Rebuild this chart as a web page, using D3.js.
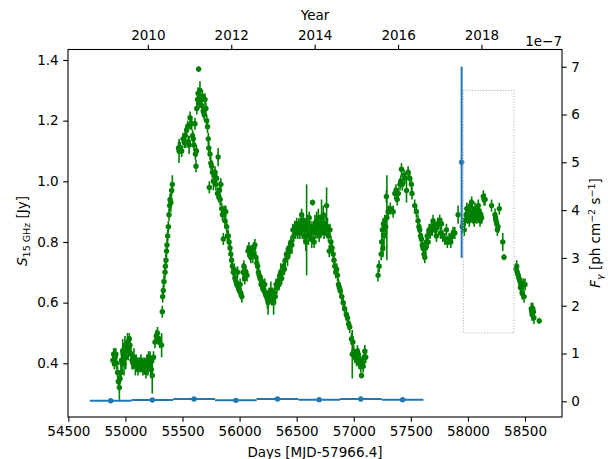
<!DOCTYPE html>
<html>
<head>
<meta charset="utf-8">
<script src="https://cdn.jsdelivr.net/npm/d3@7/dist/d3.min.js"></script>
<style>
  body { margin: 0; background: #fff; }
  svg text { font-family: "DejaVu Sans", sans-serif; fill: #000; }
</style>
</head>
<body>
<div id="chart"></div>
<script>
// ---------------- data ----------------
// OVRO 15 GHz light curve: MJD, flux density [Jy], error [Jy]
var ovroMjd = [
  54890,54897,54903,54909,54916,54922,54931,54938,54947,54953,54961,54966,54970,54976,54981,54988,54996,55003,55011,55018,
  55025,55034,55040,55049,55058,55066,55075,55087,55094,55101,55110,55119,55128,55136,55145,55154,55163,55171,55180,55189,
  55196,55203,55210,55216,55222,55227,55235,55246,55259,55270,55280,55290,55300,55317,55323,55326,55332,55338,55347,55350,
  55355,55360,55364,55370,55376,55382,55387,55391,55398,55405,55411,
  55465,55470,55480,55493,55505,55515,55522,55528,55537,55545,55551,55558,55566,55573,55580,55588,55595,55600,55609,55613,
  55618,55622,55625,55632,55636,55641,55645,55653,55660,55668,55675,55682,55690,55697,55705,55712,55719,55726,55730,55735,
  55741,55748,55755,55762,55770,55778,55785,55792,55799,55806,55812,55818,55824,55830,55836,55843,55850,55858,55865,55872,
  55879,55887,55894,55901,55908,55916,55923,55930,55937,55945,55952,55960,55968,55975,55982,55990,55998,56005,56012,56020,
  56030,56038,56045,56055,56065,56073,56082,56090,56098,56106,56115,56125,56134,56142,56150,56158,56165,56172,56180,56188,
  56196,56204,56212,56220,56228,56236,56244,56250,56258,56266,56274,56282,56290,56298,56305,56313,56320,56328,56336,56345,
  56352,56360,56368,56376,56384,56392,56400,56410,56420,56430,56440,56450,56458,56467,56475,56483,56490,56500,56510,56520,
  56528,56535,56543,56550,56558,56565,56572,56580,56587,56595,56603,56610,56618,56625,56632,56639,56646,56653,56660,56668,
  56675,56683,56690,56697,56705,56712,56718,56725,56733,56740,56748,56755,56762,56770,56778,56785,56792,56800,56810,56820,
  56827,56834,56842,56850,56858,56866,56874,56882,56895,56907,56920,56935,56945,56955,56965,56980,56987,56993,57000,57010,
  57024,57032,57040,57048,57055,57062,57068,57075,57083,57090,57097,57105,
  57213,57222,57240,57245,57250,57255,57260,57265,57272,57280,57286,57290,57301,57320,57345,57360,57370,57380,57390,57405,
  57412,57418,57425,57440,57447,57462,57476,57490,57505,57510,57534,57549,57563,57571,57578,57585,57593,57600,57607,57615,
  57622,57630,57636,57643,57651,57660,57670,57680,57688,57695,57705,57715,57724,57735,57745,57753,57760,57768,57780,57797,
  57812,57820,57835,57850,57862,57870,57885,57914,57950,57960,57968,57975,57983,57990,57998,58005,58012,58020,58026,58033,
  58040,58047,58055,58062,58070,58078,58085,58091,58098,58106,58113,58120,58135,58142,58150,58207,58237,58242,58246,58252,
  58258,58264,58275,58305,58316,58421,58427,58432,58441,58448,58456,58460,58465,58471,58476,58486,58492,58500,58555,58559,
  58563,58568,58574,58578,58625
];
var ovroFlux = [
  0.41,0.43,0.40,0.42,0.43,0.40,0.37,0.34,0.32,0.35,0.37,0.41,0.40,0.44,0.43,0.40,0.46,0.42,0.44,0.47,
  0.45,0.48,0.46,0.43,0.41,0.40,0.42,0.39,0.41,0.40,0.38,0.40,0.39,0.41,0.39,0.38,0.40,0.39,0.37,0.41,
  0.39,0.42,0.40,0.41,0.38,0.38,0.36,0.42,0.47,0.49,0.50,0.48,0.47,0.46,0.57,0.62,0.64,0.67,0.70,0.72,
  0.74,0.77,0.79,0.82,0.85,0.89,0.92,0.94,0.93,0.97,0.99,
  1.11,1.10,1.11,1.10,1.14,1.13,1.15,1.13,1.17,1.18,1.13,1.12,1.21,1.19,1.19,1.15,1.14,1.12,1.19,1.09,
  1.05,1.10,1.24,1.27,1.29,1.37,1.26,1.30,1.27,1.25,1.28,1.23,1.22,1.27,1.24,1.20,1.18,1.14,1.11,0.98,
  1.09,1.06,1.05,1.03,1.00,1.02,1.03,0.99,1.01,0.96,1.08,0.95,0.97,0.94,0.99,0.91,0.89,0.81,0.90,0.87,
  0.90,0.85,0.82,0.82,0.80,0.78,0.76,0.74,0.72,0.70,0.71,0.68,0.67,0.66,0.70,0.65,0.64,0.66,0.63,0.62,
  0.70,0.72,0.68,0.70,0.69,0.77,0.78,0.76,0.75,0.77,0.76,0.78,0.79,0.75,0.73,0.72,0.70,0.69,0.68,0.66,
  0.67,0.65,0.64,0.66,0.63,0.62,0.61,0.60,0.63,0.62,0.64,0.61,0.63,0.60,0.63,0.62,0.66,0.65,0.67,0.66,
  0.69,0.70,0.68,0.70,0.72,0.71,0.74,0.76,0.75,0.78,0.77,0.80,0.79,0.84,0.82,0.85,0.83,0.86,0.84,0.86,
  0.83,0.85,0.89,0.84,0.87,0.82,0.85,0.80,0.84,0.86,0.82,0.88,0.83,0.85,0.81,0.93,0.84,0.80,0.86,0.83,
  0.87,0.85,0.88,0.82,0.86,0.84,0.88,0.85,0.89,0.83,0.86,0.84,0.92,0.85,0.82,0.77,0.84,0.80,0.78,0.76,
  0.74,0.72,0.70,0.71,0.69,0.66,0.65,0.64,0.62,0.60,0.58,0.56,0.55,0.53,0.52,0.48,0.43,0.47,0.44,0.42,
  0.41,0.44,0.43,0.40,0.41,0.39,0.36,0.40,0.39,0.42,0.44,0.42,
  0.69,0.72,0.76,0.80,0.84,0.78,0.86,0.82,0.87,0.85,0.95,0.88,0.90,0.91,0.90,0.96,0.97,0.94,0.96,0.99,
  1.00,1.04,0.99,1.02,1.01,0.97,1.03,1.01,0.99,0.96,0.92,0.90,0.87,0.85,0.84,0.82,0.81,0.79,0.78,0.76,
  0.75,0.78,0.80,0.82,0.80,0.84,0.83,0.85,0.84,0.87,0.85,0.84,0.82,0.86,0.86,0.87,0.83,0.86,0.82,0.81,
  0.84,0.80,0.81,0.80,0.82,0.83,0.83,0.89,0.85,0.86,0.84,0.87,0.89,0.91,0.88,0.90,0.87,0.92,0.89,0.93,
  0.90,0.88,0.87,0.91,0.89,0.88,0.90,0.92,0.90,0.87,0.89,0.88,0.95,0.94,0.94,0.92,0.89,0.88,0.87,0.86,
  0.84,0.85,0.91,0.80,0.75,0.71,0.72,0.70,0.69,0.68,0.67,0.65,0.66,0.66,0.63,0.66,0.62,0.66,0.58,0.57,
  0.56,0.58,0.57,0.55,0.54
];
var ovroErr = [
  0.02,0.02,0.02,0.03,0.02,0.02,0.02,0.02,0.04,0.02,0.03,0.04,0.03,0.04,0.03,0.04,0.03,0.04,0.03,0.03,
  0.04,0.02,0.03,0.03,0.03,0.02,0.03,0.03,0.02,0.02,0.02,0.02,0.02,0.02,0.02,0.02,0.02,0.02,0.02,0.02,
  0.03,0.02,0.02,0.03,0.02,0.03,0.06,0.02,0.02,0.02,0.02,0.02,0.02,0.04,0.02,0.02,0.02,0.02,0.02,0.02,
  0.02,0.02,0.02,0.02,0.02,0.02,0.02,0.02,0.03,0.02,0.03,
  0.02,0.04,0.02,0.02,0.02,0.02,0.02,0.02,0.02,0.02,0.02,0.03,0.02,0.02,0.02,0.02,0.02,0.02,0.02,0.02,
  0.02,0.02,0.02,0.02,0.02,0.01,0.02,0.03,0.02,0.02,0.02,0.02,0.02,0.02,0.02,0.02,0.02,0.02,0.02,0.02,
  0.02,0.02,0.02,0.02,0.03,0.02,0.02,0.02,0.02,0.02,0.03,0.02,0.03,0.02,0.02,0.02,0.02,0.02,0.02,0.02,
  0.02,0.02,0.02,0.02,0.02,0.02,0.02,0.02,0.02,0.02,0.02,0.02,0.02,0.02,0.02,0.02,0.02,0.02,0.02,0.02,
  0.03,0.02,0.02,0.02,0.02,0.02,0.02,0.02,0.02,0.02,0.03,0.02,0.02,0.02,0.02,0.03,0.02,0.02,0.02,0.02,
  0.02,0.02,0.02,0.02,0.02,0.02,0.03,0.04,0.02,0.02,0.03,0.02,0.02,0.04,0.02,0.02,0.02,0.02,0.02,0.02,
  0.02,0.03,0.02,0.02,0.02,0.02,0.02,0.02,0.03,0.02,0.02,0.02,0.03,0.02,0.02,0.02,0.02,0.02,0.03,0.02,
  0.02,0.03,0.02,0.03,0.02,0.02,0.03,0.03,0.15,0.03,0.03,0.02,0.03,0.02,0.03,0.01,0.03,0.02,0.03,0.02,
  0.03,0.02,0.03,0.02,0.03,0.02,0.06,0.02,0.03,0.02,0.03,0.02,0.06,0.03,0.02,0.02,0.02,0.02,0.02,0.02,
  0.02,0.02,0.02,0.02,0.02,0.02,0.02,0.02,0.02,0.02,0.02,0.02,0.02,0.02,0.02,0.02,0.08,0.02,0.02,0.02,
  0.02,0.02,0.02,0.02,0.02,0.02,0.01,0.02,0.02,0.02,0.02,0.02,
  0.02,0.02,0.02,0.03,0.02,0.03,0.02,0.05,0.02,0.03,0.02,0.14,0.02,0.02,0.02,0.02,0.02,0.02,0.02,0.02,
  0.02,0.02,0.02,0.02,0.02,0.04,0.02,0.02,0.02,0.02,0.02,0.02,0.02,0.02,0.02,0.02,0.02,0.02,0.02,0.02,
  0.02,0.02,0.02,0.02,0.02,0.02,0.02,0.02,0.02,0.02,0.02,0.02,0.02,0.02,0.02,0.02,0.02,0.02,0.02,0.02,
  0.02,0.02,0.02,0.02,0.02,0.02,0.02,0.03,0.02,0.02,0.02,0.02,0.02,0.02,0.02,0.02,0.02,0.02,0.02,0.02,
  0.02,0.02,0.02,0.02,0.02,0.02,0.02,0.02,0.02,0.02,0.02,0.02,0.02,0.02,0.02,0.02,0.02,0.02,0.02,0.02,
  0.02,0.02,0.02,0.03,0.01,0.02,0.02,0.02,0.02,0.02,0.02,0.02,0.02,0.02,0.02,0.02,0.02,0.02,0.02,0.02,
  0.02,0.02,0.02,0.02,0.01
];

// Fermi-LAT gamma-ray flux [1e-7 ph cm^-2 s^-1]
var fermiMjd  = [54871, 55236, 55601, 55967, 56332, 56697, 57062, 57428, 57945];
var fermiFlux = [0.012, 0.027, 0.05, 0.02, 0.05, 0.035, 0.05, 0.035, 5.0];
var fermiXerr = [182.6, 182.6, 182.6, 182.6, 182.6, 182.6, 182.6, 182.6, 0];
var fermiYerr = [0.01, 0.01, 0.01, 0.01, 0.01, 0.01, 0.01, 0.01, 2.0];

// dotted box (MJD, Jy)
var boxMjd = [57960, 58403];
var boxJy  = [0.5, 1.3];

// ticks
var dayTicks   = [54500, 55000, 55500, 56000, 56500, 57000, 57500, 58000, 58500];
var yearTicks  = [2010, 2012, 2014, 2016, 2018];
var fluxTicks  = [0.4, 0.6, 0.8, 1.0, 1.2, 1.4];
var gammaTicks = [0, 1, 2, 3, 4, 5, 6, 7];

// ---------------- layout ----------------
var W = 608, H = 459
var margin = {top: 49.5, right: 46, bottom: 42, left: 68}
var fs = 13.5

var x = d3.scaleLinear().domain([54497, 58824]).range([margin.left, W - margin.right])
var yL = d3.scaleLinear().domain([0.223, 1.4346]).range([H - margin.bottom, margin.top])
var yR = d3.scaleLinear().domain([-0.328, 7.36]).range([H - margin.bottom, margin.top])

function mjdToYear(m) { return 2000 + (m - 51544) / 365.25 }
var xYear = d3.scaleLinear().domain(x.domain().map(mjdToYear)).range(x.range())

var svg = d3.select("#chart").append("svg")
  .attr("width", W).attr("height", H)

var green = "#008000", blue = "#1f77b4"

// ---------------- OVRO ----------------
var ovro = ovroMjd.map(function (m, i) { return {m: m, f: ovroFlux[i], e: ovroErr[i]} })

svg.append("g").selectAll("line").data(ovro).enter().append("line")
  .attr("x1", function (d) { return x(d.m) }).attr("x2", function (d) { return x(d.m) })
  .attr("y1", function (d) { return yL(d.f - d.e) }).attr("y2", function (d) { return yL(d.f + d.e) })
  .attr("stroke", green).attr("stroke-width", 1.6)

svg.append("g").selectAll("circle").data(ovro).enter().append("circle")
  .attr("cx", function (d) { return x(d.m) }).attr("cy", function (d) { return yL(d.f) })
  .attr("r", 2.7).attr("fill", green)

// ---------------- Fermi ----------------
var fermi = fermiMjd.map(function (m, i) {
  return {m: m, f: fermiFlux[i], xe: fermiXerr[i], ye: fermiYerr[i]}
})
var gF = svg.append("g")
gF.selectAll("line.xe").data(fermi).enter().append("line")
  .attr("class", "xe")
  .attr("x1", function (d) { return x(d.m - d.xe) }).attr("x2", function (d) { return x(d.m + d.xe) })
  .attr("y1", function (d) { return yR(d.f) }).attr("y2", function (d) { return yR(d.f) })
  .attr("stroke", blue).attr("stroke-width", 2)
gF.selectAll("line.ye").data(fermi).enter().append("line")
  .attr("class", "ye")
  .attr("x1", function (d) { return x(d.m) }).attr("x2", function (d) { return x(d.m) })
  .attr("y1", function (d) { return yR(d.f - d.ye) }).attr("y2", function (d) { return yR(d.f + d.ye) })
  .attr("stroke", blue).attr("stroke-width", 2)
gF.selectAll("circle").data(fermi).enter().append("circle")
  .attr("cx", function (d) { return x(d.m) }).attr("cy", function (d) { return yR(d.f) })
  .attr("r", 2.7).attr("fill", blue)

// dotted box
svg.append("rect")
  .attr("x", x(boxMjd[0])).attr("y", yL(boxJy[1]))
  .attr("width", x(boxMjd[1]) - x(boxMjd[0])).attr("height", yL(boxJy[0]) - yL(boxJy[1]))
  .attr("fill", "none").attr("stroke", "#bbb").attr("stroke-width", 1.1)
  .attr("stroke-dasharray", "1.2,1.6")

// ---------------- axes ----------------
function styleAxis(g) {
  g.selectAll(".domain").remove()
  g.selectAll(".tick line").attr("stroke", "#000").attr("stroke-width", 1.1)
  g.selectAll(".tick text").attr("font-size", fs).attr("font-family", "DejaVu Sans").attr("fill", "#000")
}

svg.append("g").attr("transform", "translate(0," + (H - margin.bottom) + ")")
  .call(d3.axisBottom(x).tickValues(dayTicks).tickFormat(d3.format("d")).tickSize(4.8).tickPadding(4.5))
  .call(styleAxis)

svg.append("g").attr("transform", "translate(0," + margin.top + ")")
  .call(d3.axisTop(xYear).tickValues(yearTicks).tickFormat(d3.format("d")).tickSize(4.8).tickPadding(4.5))
  .call(styleAxis)

svg.append("g").attr("transform", "translate(" + margin.left + ",0)")
  .call(d3.axisLeft(yL).tickValues(fluxTicks).tickFormat(d3.format(".1f")).tickSize(4.8).tickPadding(4.5))
  .call(styleAxis)

svg.append("g").attr("transform", "translate(" + (W - margin.right) + ",0)")
  .call(d3.axisRight(yR).tickValues(gammaTicks).tickFormat(d3.format("d")).tickSize(4.8).tickPadding(4.5))
  .call(styleAxis)

// frame
svg.append("rect")
  .attr("x", margin.left).attr("y", margin.top)
  .attr("width", W - margin.left - margin.right).attr("height", H - margin.top - margin.bottom)
  .attr("fill", "none").attr("stroke", "#000").attr("stroke-width", 1.1)

// ---------------- labels ----------------
svg.append("text").attr("x", 315).attr("y", 457).attr("text-anchor", "middle")
  .attr("font-size", fs).text("Days [MJD-57966.4]")

svg.append("text").attr("x", 315).attr("y", 20).attr("text-anchor", "middle")
  .attr("font-size", fs).text("Year")

svg.append("text").attr("x", W - margin.right).attr("y", 46).attr("text-anchor", "end")
  .attr("font-size", fs).text("1e\u22127")

var lt = svg.append("text").attr("transform", "translate(27,231) rotate(-90)")
  .attr("text-anchor", "middle").attr("font-size", fs)
lt.append("tspan").attr("font-style", "italic").text("S")
lt.append("tspan").attr("font-size", 9.5).attr("dy", 3).text("15 GHz")
lt.append("tspan").attr("dy", -3).text(" [Jy]")

var rt = svg.append("text").attr("transform", "translate(600,233) rotate(-90)")
  .attr("text-anchor", "middle").attr("font-size", fs)
rt.append("tspan").attr("font-style", "italic").text("F")
rt.append("tspan").attr("font-size", 9.5).attr("font-style", "italic").attr("dy", 3).text("\u03b3")
rt.append("tspan").attr("dy", -3).text(" [ph cm")
rt.append("tspan").attr("font-size", 9.5).attr("dy", -5).text("\u22122")
rt.append("tspan").attr("dy", 5).text(" s")
rt.append("tspan").attr("font-size", 9.5).attr("dy", -5).text("\u22121")
rt.append("tspan").attr("dy", 5).text("]")
</script>
</body>
</html>
